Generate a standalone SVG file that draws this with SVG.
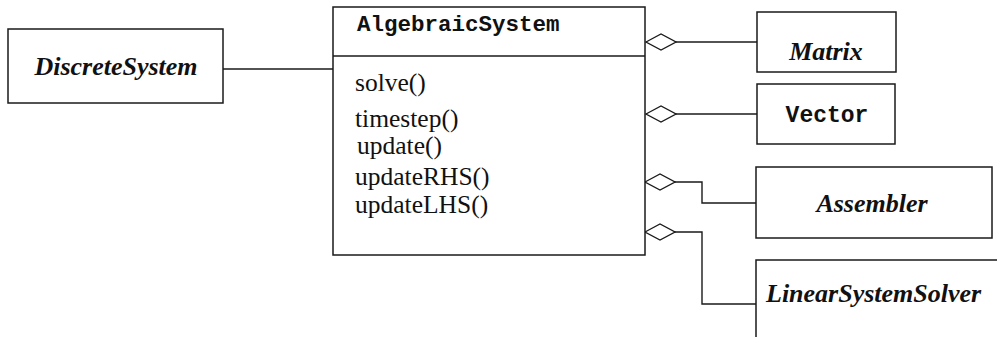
<svg xmlns="http://www.w3.org/2000/svg" width="997" height="337" viewBox="0 0 997 337">
  <style>
    .box { fill: #ffffff; stroke: #1a1a1a; stroke-width: 1.5; }
    .edge { fill: none; stroke: #1a1a1a; stroke-width: 1.4; }
    .cls { font-family: "Liberation Serif", "Times New Roman", serif; font-weight: bold; font-style: italic; font-size: 26px; fill: #111; }
    .code { font-family: "Liberation Mono", "Courier New", monospace; font-weight: bold; fill: #111; }
    .op { font-family: "Liberation Serif", "Times New Roman", serif; font-size: 25.5px; fill: #111; }
  </style>
  <defs>
    <!-- hollow aggregation diamond at the whole end of a link -->
    <marker id="agg" viewBox="0 0 32 18" refX="1" refY="9" markerWidth="32" markerHeight="18" markerUnits="userSpaceOnUse" orient="auto">
      <path d="M1,9 L16,1 L31,9 L16,17 Z" fill="#ffffff" stroke="#1a1a1a" stroke-width="1.3"/>
    </marker>
  </defs>

  <g id="connectors">
    <line class="edge" x1="223" y1="69" x2="333" y2="69"/>
    <polyline class="edge" points="646,42 757,42" marker-start="url(#agg)"/>
    <polyline class="edge" points="646,114 757,114" marker-start="url(#agg)"/>
    <polyline class="edge" points="645,182 702,182 702,203 756,203" marker-start="url(#agg)"/>
    <polyline class="edge" points="645,232 702,232 702,304 756,304" marker-start="url(#agg)"/>
  </g>

  <g id="DiscreteSystem">
    <rect class="box" x="8" y="29" width="215" height="74"/>
    <text class="cls" x="116" y="75" text-anchor="middle">DiscreteSystem</text>
  </g>

  <g id="AlgebraicSystem">
    <rect class="box" x="333" y="7" width="312" height="248"/>
    <line class="edge" x1="333" y1="56" x2="645" y2="56"/>
    <text class="code" x="357" y="31" font-size="22.5">AlgebraicSystem</text>
    <text class="op" x="355" y="91">solve()</text>
    <text class="op" x="355" y="127">timestep()</text>
    <text class="op" x="357" y="154">update()</text>
    <text class="op" x="355" y="185">updateRHS()</text>
    <text class="op" x="355" y="213">updateLHS()</text>
  </g>

  <g id="Matrix">
    <rect class="box" x="757" y="12" width="139" height="60"/>
    <text class="cls" x="826" y="60" text-anchor="middle">Matrix</text>
  </g>

  <g id="Vector">
    <rect class="box" x="757" y="84" width="138" height="60"/>
    <text class="code" x="827" y="122" font-size="23" text-anchor="middle">Vector</text>
  </g>

  <g id="Assembler">
    <rect class="box" x="756" y="167" width="236" height="71"/>
    <text class="cls" x="872" y="212" text-anchor="middle">Assembler</text>
  </g>

  <g id="LinearSystemSolver">
    <path class="box" d="M756,337 V260 H997" fill="none"/>
    <text class="cls" x="766" y="302">LinearSystemSolver</text>
  </g>
</svg>
